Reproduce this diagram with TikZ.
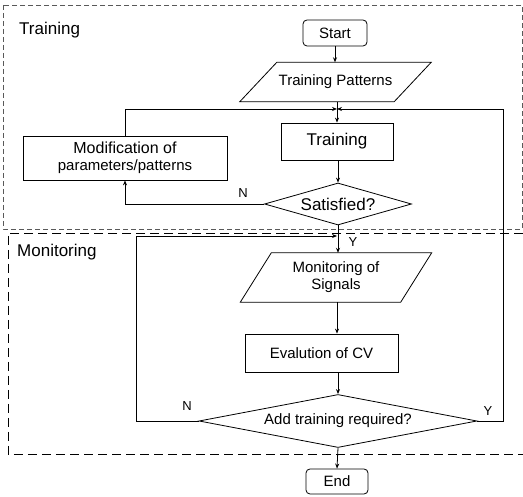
\documentclass[tikz,border=0pt]{standalone}
\usepackage{fontspec}
\setmainfont{Liberation Sans}
\usetikzlibrary{shapes.geometric,arrows.meta}
\begin{document}
\begin{tikzpicture}[x=1pt,y=-1pt,
  txt/.style={font=\fontsize{15}{17}\selectfont},
  big/.style={font=\fontsize{17}{19}\selectfont},
  lbl/.style={font=\fontsize{13}{15}\selectfont, inner sep=0pt},
  terminal/.style={draw, rounded corners=4pt, txt, inner sep=0pt, line width=0.8pt},
  procbox/.style={draw, inner sep=0pt, line width=0.8pt},
  iobox/.style={inner sep=0pt, txt, align=center},
  decision/.style={draw, diamond, inner sep=0pt, line width=0.8pt},
  flow/.style={line width=0.8pt, -{Stealth[length=5pt,width=4pt]}},
  plain/.style={line width=0.8pt},
  zone/.style={line width=0.8pt}]
\useasboundingbox (0,0) rectangle (523,497);

% phase frames
\draw[zone, gray!70!black, dash pattern=on 5pt off 3pt] (3,5) rectangle (522,229);
\draw[zone, dash pattern=on 9pt off 5pt] (523,233) -- (8,233) -- (8,454) -- (523,454);
\node[big, anchor=west, inner sep=0pt] (ttl1) at (19,30) {Training};
\node[big, anchor=west, inner sep=0pt] (ttl2) at (17,252) {Monitoring};

% nodes
\node[terminal, minimum width=64pt, minimum height=26pt] (start) at (335,33) {Start};
\node[iobox, minimum width=154pt, minimum height=39pt] (tp) at (335.5,82) {Training Patterns};
\draw[plain] ([xshift=18.5pt]tp.north west) -- ([xshift=18.5pt]tp.north east)
  -- ([xshift=-18.5pt]tp.south east) -- ([xshift=-18.5pt]tp.south west) -- cycle;
\coordinate (j1) at (337,109);
\node[procbox, big, minimum width=112pt, minimum height=37pt] (train) at (337,141.5) {Training};
\node[procbox, txt, align=center, minimum width=204pt, minimum height=44pt] (mod) at (125,158)
  {\fontsize{16}{18}\selectfont Modification of\\ parameters/patterns};
\node[decision, big, aspect=3.5, minimum width=147pt, minimum height=42pt] (sat) at (338,204) {Satisfied?};
\coordinate (j2) at (337,236);
\node[iobox, minimum width=160pt, minimum height=49pt] (mon) at (336,277.5) {Monitoring of\\Signals};
\draw[plain] ([xshift=15.5pt]mon.north west) -- ([xshift=15.5pt]mon.north east)
  -- ([xshift=-15.5pt]mon.south east) -- ([xshift=-15.5pt]mon.south west) -- cycle;
\node[procbox, txt, minimum width=153pt, minimum height=38pt] (eval) at (321.5,353) {Evalution of CV};
\node[decision, txt, aspect=5.2, minimum width=278pt, minimum height=53pt] (add) at (338,421) {Add training required?};
\node[terminal, minimum width=62pt, minimum height=25pt] (end) at (337,481.5) {End};

% connectors
\draw[flow] (start) -- (start |- tp.north);
\draw[plain] (tp.south -| j1) -- (j1);
\draw[flow] (j1) -- (j1 |- train.north);
\draw[flow] (mod.north) |- (j1);
\draw[flow] (add.east) -- (503,421) |- (j1);
\draw[flow] (train.south -| sat.north) -- (sat.north);
\draw[flow] (sat.west) -| (mod.south);
\draw[flow] (sat.south) -- (sat.south |- mon.north);
\draw[flow] (add.west) -- (136,421) |- (j2);
\draw[flow] (mon.south -| j2) -- (j2 |- eval.north);
\draw[flow] (eval.south -| add.north) -- (add.north);
\draw[flow] (add.south) -- (end.north);

% branch labels
\node[lbl] (n1) at (243,193) {N};
\node[lbl] (y1) at (353,242) {Y};
\node[lbl] (n2) at (187,406) {N};
\node[lbl] (y2) at (488,411) {Y};
\end{tikzpicture}
\end{document}
